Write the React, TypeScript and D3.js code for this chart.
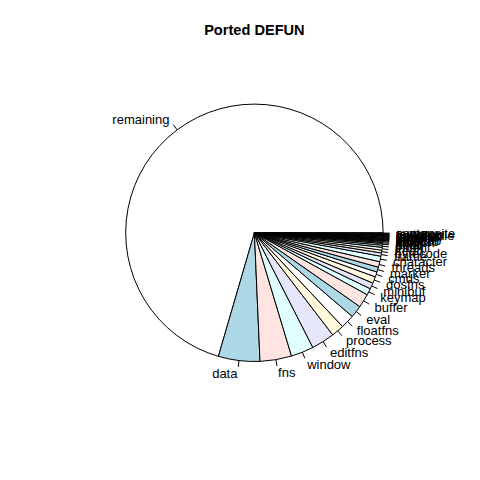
import React, { useEffect, useRef } from 'react';
import * as d3 from 'd3';

// ported DEFUN counts per source file
const files = [
  'remaining', 'data', 'fns', 'window', 'editfns', 'process', 'floatfns', 'eval',
  'buffer', 'keymap', 'minibuf', 'dosfns', 'cmds', 'marker', 'threads', 'character',
  'frame', 'bytecode', 'lread', 'indent', 'print', 'alloc', 'search', 'xdisp',
  'chartab', 'casetab', 'insdel', 'fileio', 'doc', 'undo', 'timefns', 'json',
  'terminal', 'callproc', 'casefiddle', 'textprop', 'composite', 'syntax',
];
const counts = [
  1015, 75, 57, 41, 42, 23, 25, 22,
  25, 12, 11, 12, 9, 9, 10, 10,
  6, 5, 5, 4, 3, 2, 2, 1,
  1, 1, 1, 1, 1, 1, 1, 1,
  1, 1, 1, 1, 1, 1,
];
// R's default pie palette, recycled
const palette = ['#FFFFFF', '#ADD8E6', '#FFE4E1', '#E0FFFF', '#E6E6FA', '#FFF8DC'];
const title = 'Ported DEFUN';

interface Slice {
  name: string;
  value: number;
  idx: number;
}

const App: React.FC = () => {
  const svgRef = useRef<SVGSVGElement | null>(null);

  useEffect(() => {
    const svg = d3.select(svgRef.current!);
    svg.selectAll('*').remove();

    const font = "'Liberation Sans', Arial, Helvetica, sans-serif";

    // plot region as in R's default margins
    const cx = 254.4;
    const cy = 232.8;
    const radius = 128.7;

    const data: Slice[] = files.map((name, i) => ({ name, value: counts[i], idx: i }));

    // counterclockwise from 3 o'clock, like pie() in R
    const pie = d3
      .pie<Slice>()
      .value((d) => d.value)
      .sort(null)
      .startAngle(Math.PI / 2)
      .endAngle(Math.PI / 2 - 2 * Math.PI);

    const arcs = pie(data);
    const arc = d3.arc<d3.PieArcDatum<Slice>>().innerRadius(0).outerRadius(radius);

    const g = svg.append('g').attr('transform', `translate(${cx}, ${cy})`);

    g.selectAll('path.slice')
      .data(arcs)
      .enter()
      .append('path')
      .attr('class', 'slice')
      .attr('d', arc)
      .attr('fill', (d) => palette[d.data.idx % palette.length])
      .attr('stroke', '#000')
      .attr('stroke-width', 1);

    const mid = (d: d3.PieArcDatum<Slice>) => (d.startAngle + d.endAngle) / 2;

    g.selectAll('line.tick')
      .data(arcs)
      .enter()
      .append('line')
      .attr('class', 'tick')
      .attr('x1', (d) => Math.sin(mid(d)) * radius)
      .attr('y1', (d) => -Math.cos(mid(d)) * radius)
      .attr('x2', (d) => Math.sin(mid(d)) * radius * 1.05)
      .attr('y2', (d) => -Math.cos(mid(d)) * radius * 1.05)
      .attr('stroke', '#000')
      .attr('stroke-width', 1);

    g.selectAll('text.label')
      .data(arcs)
      .enter()
      .append('text')
      .attr('class', 'label')
      .attr('x', (d) => Math.sin(mid(d)) * radius * 1.1)
      .attr('y', (d) => -Math.cos(mid(d)) * radius * 1.1)
      .attr('dy', '0.36em')
      .attr('text-anchor', (d) => (Math.sin(mid(d)) < 0 ? 'end' : 'start'))
      .style('font-family', font)
      .style('font-size', '13px')
      .attr('fill', '#000')
      .text((d) => d.data.name);

    svg
      .append('text')
      .attr('x', cx)
      .attr('y', 35)
      .attr('text-anchor', 'middle')
      .style('font-family', font)
      .style('font-size', '14.6px')
      .style('font-weight', 'bold')
      .text(title);
  }, []);

  return (
    <svg
      ref={svgRef}
      width={480}
      height={480}
      style={{ position: 'absolute', left: 0, top: 0, background: '#fff' }}
    />
  );
};

export default App;
